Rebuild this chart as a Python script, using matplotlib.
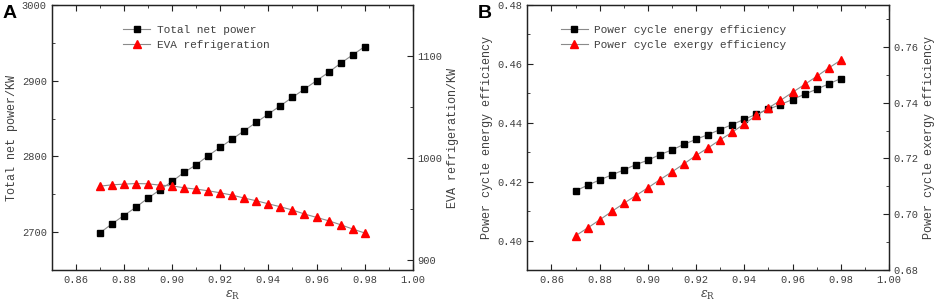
import numpy as np
import matplotlib
matplotlib.use("Agg")
import matplotlib.pyplot as plt
from matplotlib.ticker import MultipleLocator

plt.rcParams['font.family'] = ['Liberation Mono', 'DejaVu Sans']
plt.rcParams['mathtext.fontset'] = 'dejavuserif'

# data
eps_r = [0.870, 0.875, 0.880, 0.885, 0.890, 0.895, 0.900, 0.905, 0.910, 0.915,
         0.920, 0.925, 0.930, 0.935, 0.940, 0.945, 0.950, 0.955, 0.960, 0.965,
         0.970, 0.975, 0.980]

net_power = [2699, 2711, 2722, 2733, 2745, 2756, 2767, 2779, 2789, 2801,
             2812, 2823, 2834, 2845, 2856, 2867, 2878, 2889, 2900, 2911,
             2923, 2934, 2945]
eva_refrig = [972.3, 973.6, 974.3, 974.9, 974.6, 973.3, 972.6, 970.7, 969.4, 967.8,
              965.8, 963.5, 960.6, 958.0, 955.0, 952.1, 948.9, 945.0, 941.7, 938.4,
              934.5, 930.3, 926.4]

energy_eff = [0.4169, 0.4188, 0.4206, 0.4223, 0.4240, 0.4258, 0.4273, 0.4292, 0.4308, 0.4327,
              0.4344, 0.4360, 0.4377, 0.4394, 0.4412, 0.4429, 0.4446, 0.4462, 0.4479, 0.4497,
              0.4514, 0.4532, 0.4550]
exergy_eff = [0.6923, 0.6951, 0.6980, 0.7010, 0.7039, 0.7067, 0.7095, 0.7124, 0.7152, 0.7181,
              0.7211, 0.7238, 0.7267, 0.7294, 0.7324, 0.7354, 0.7381, 0.7408, 0.7437, 0.7465,
              0.7494, 0.7524, 0.7552]

txt = '#404040'
line_c = '#8a8a8a'

fig = plt.figure(figsize=(9.34, 3.08), dpi=100)


def style(ax):
    ax.tick_params(which='both', direction='in', colors='#222222', labelcolor=txt, labelsize=7.5)
    ax.tick_params(which='major', length=4)
    ax.tick_params(which='minor', length=2.5)
    for s in ax.spines.values():
        s.set_color('#222222')
        s.set_linewidth(0.9)


def panel(rect, letter, y1, y2, lab1, lab2, leg1, leg2, ylim1, ylim2, ymaj1, ymaj2,
          fmt1, fmt2, leg_x):
    ax = fig.add_axes(rect)
    ax2 = ax.twinx()
    l1, = ax.plot(eps_r, y1, '-', color=line_c, lw=0.8, marker='s', ms=4.5,
                  mfc='black', mec='black', label=leg1)
    l2, = ax2.plot(eps_r, y2, '-', color=line_c, lw=0.8, marker='^', ms=5.5,
                   mfc='red', mec='red', label=leg2)
    ax.set_xlim(0.85, 1.00)
    ax.set_ylim(*ylim1)
    ax2.set_ylim(*ylim2)
    ax.xaxis.set_major_locator(MultipleLocator(0.02))
    ax.xaxis.set_minor_locator(MultipleLocator(0.01))
    ax.yaxis.set_major_locator(MultipleLocator(ymaj1))
    ax.yaxis.set_minor_locator(MultipleLocator(ymaj1 / 2))
    ax2.yaxis.set_major_locator(MultipleLocator(ymaj2))
    ax2.yaxis.set_minor_locator(MultipleLocator(ymaj2 / 2))
    ax.xaxis.set_major_formatter(plt.FormatStrFormatter('%.2f'))
    ax.yaxis.set_major_formatter(plt.FormatStrFormatter(fmt1))
    ax2.yaxis.set_major_formatter(plt.FormatStrFormatter(fmt2))
    ax.tick_params(axis='x', which='both', top=True)
    style(ax)
    style(ax2)
    ax.set_xlabel(r'$\varepsilon_{\rm R}$', color=txt, fontsize=9, labelpad=3)
    ax.set_ylabel(lab1, color=txt, fontsize=8.5, labelpad=3)
    ax2.set_ylabel(lab2, color=txt, fontsize=8.5, labelpad=3)
    ax.legend([l1, l2], [leg1, leg2], loc='upper left', bbox_to_anchor=(leg_x, 0.95),
              frameon=False, fontsize=8, labelcolor=txt, handlelength=2.4,
              handletextpad=0.6, borderaxespad=0.2, labelspacing=0.45)
    fig.text(rect[0] - 0.053, 0.985, letter, fontsize=14, fontweight='bold',
             family='Liberation Sans', va='top', ha='left')
    return ax, ax2


panel([0.0553, 0.123, 0.3867, 0.861], 'A', net_power, eva_refrig,
      'Total net power/KW', 'EVA refrigeration/KW',
      'Total net power', 'EVA refrigeration',
      (2650, 3000), (890, 1150), 100, 100, '%d', '%d', 0.18)

panel([0.5646, 0.123, 0.3872, 0.861], 'B', energy_eff, exergy_eff,
      'Power cycle energy efficiency', 'Power cycle exergy efficiency',
      'Power cycle energy efficiency', 'Power cycle exergy efficiency',
      (0.39, 0.48), (0.68, 0.775), 0.02, 0.02, '%.2f', '%.2f', 0.075)

fig.savefig('out.png', dpi=100)
